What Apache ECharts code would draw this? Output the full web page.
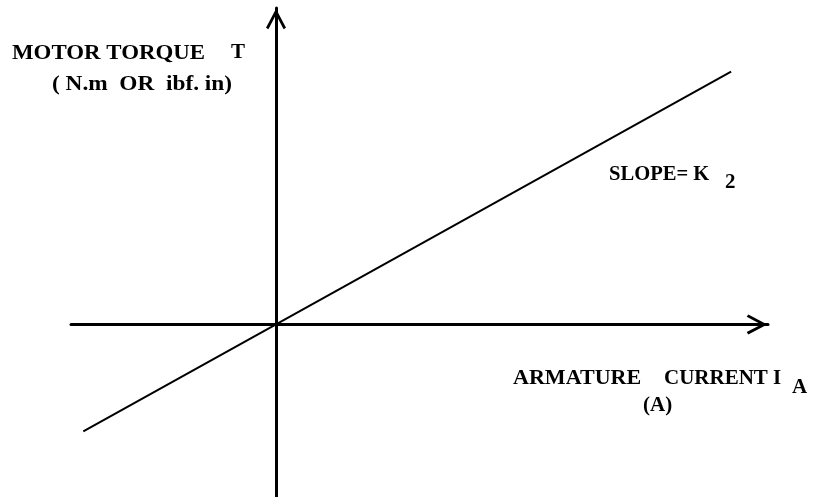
<!DOCTYPE html>
<html>
<head>
<meta charset="utf-8">
<script src="https://cdn.jsdelivr.net/npm/echarts@6/dist/echarts.min.js"></script>
<style>
html,body{margin:0;padding:0;background:#fff;}
#chart{width:814px;height:497px;}
</style>
</head>
<body>
<div id="chart"></div>
<script>
// Data (arbitrary units, straight line through origin, slope = K2)
var armatureCurrent = [-4.7, 0, 11.1];
var motorTorque = [-2.6, 0, 6.15];
var xRange = [-5, 12];
var yRange = [-4.2, 7.7];

var chart = echarts.init(document.getElementById('chart'), null, {renderer: 'canvas'});
var chevron = 'path://M10 0 L20 19 L17.6 20.6 L10 6 L2.4 20.6 L0 19 Z';
var font = 'bold 21px "Liberation Serif", "Times New Roman", serif';

function txt(s, x, y, sx) {
  return {type: 'text', x: x, y: y, scaleX: sx || 1,
    style: {text: s, x: 0, y: 0, font: font, fill: '#000', verticalAlign: 'middle', align: 'left'}, silent: true};
}

var points = armatureCurrent.map(function (v, i) { return [v, motorTorque[i]]; });

chart.setOption({
  animation: false,
  backgroundColor: '#fff',
  grid: {left: 71, right: 46, top: 8, bottom: 0, containLabel: false},
  xAxis: {
    type: 'value', min: xRange[0], max: xRange[1],
    axisLine: {show: true, onZero: true, lineStyle: {color: '#000', width: 3},
      symbol: ['none', chevron], symbolSize: [20, 22], symbolOffset: [0, -11]},
    axisTick: {show: false}, axisLabel: {show: false}, splitLine: {show: false}
  },
  yAxis: {
    type: 'value', min: yRange[0], max: yRange[1],
    axisLine: {show: true, onZero: true, lineStyle: {color: '#000', width: 3},
      symbol: ['none', chevron], symbolSize: [20, 22], symbolOffset: [0, -11]},
    axisTick: {show: false}, axisLabel: {show: false}, splitLine: {show: false}
  },
  series: [{
    type: 'line', data: points, showSymbol: false, symbol: 'none',
    lineStyle: {color: '#000', width: 2}, z: 1
  }],
  graphic: [
    txt('MOTOR TORQUE', 12, 54, 1.09),
    txt('T', 231, 53),
    txt('( N.m  OR  ibf. in)', 52, 85, 1.11),
    txt('SLOPE= K', 609, 175, 0.98),
    txt('2', 725, 183),
    txt('ARMATURE', 513, 379, 1.05),
    txt('CURRENT', 664, 379),
    txt('I', 773, 379),
    txt('A', 792, 388),
    txt('(A)', 643, 406)
  ]
});
</script>
</body>
</html>
